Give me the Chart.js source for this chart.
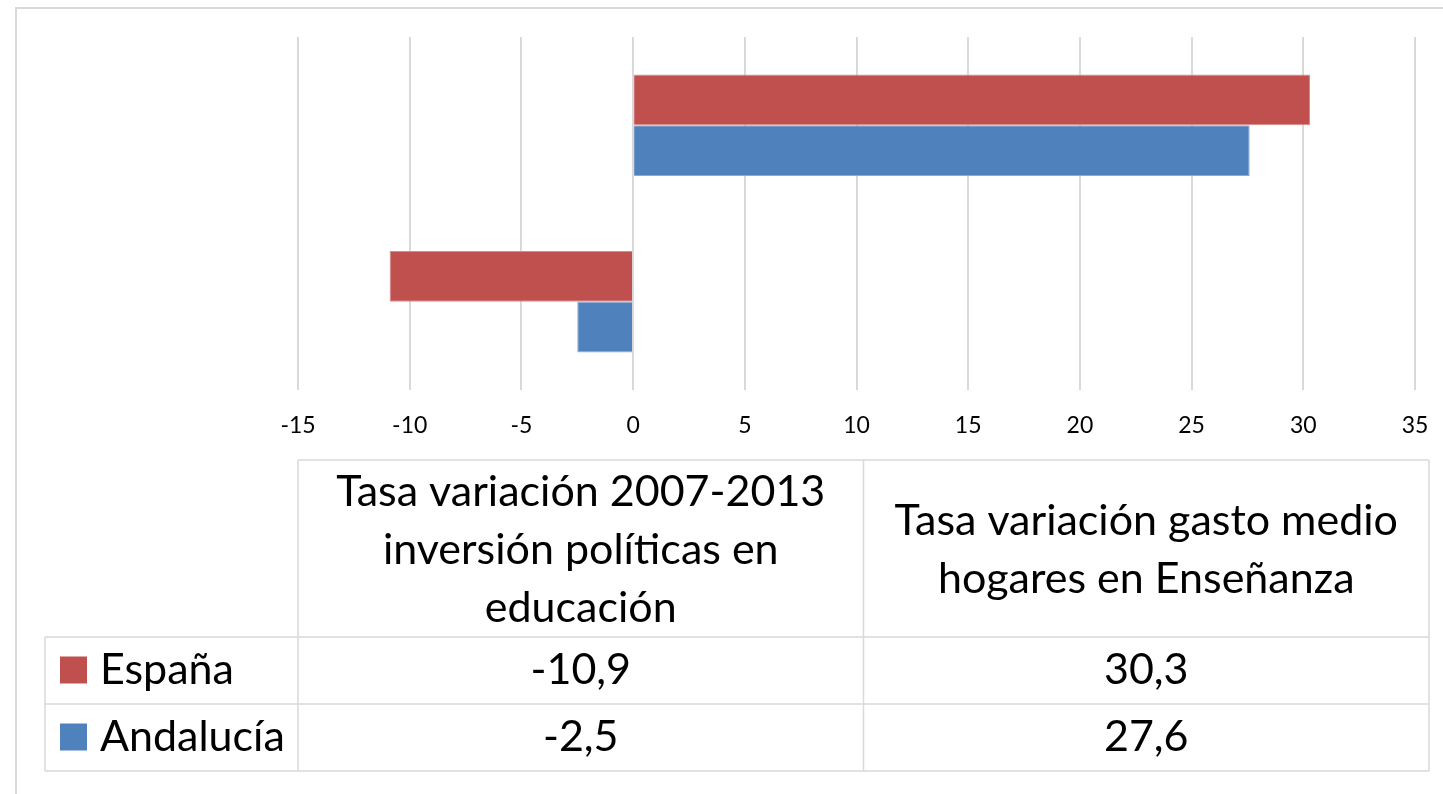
<!DOCTYPE html>
<html>
<head>
<meta charset="utf-8">
<script src="https://cdn.jsdelivr.net/npm/chart.js@4"></script>
<style>
  html, body { margin: 0; padding: 0; background: #fff; overflow: hidden; }
  canvas { display: block; }
</style>
</head>
<body>
<canvas id="graph" width="1443" height="794"></canvas>
<script>
// data
const categories = [
  ['Tasa variación 2007-2013', 'inversión políticas en', 'educación'],
  ['Tasa variación gasto medio', 'hogares en Enseñanza']
];
const seriesNames = ['España', 'Andalucía'];
const espana = [-10.9, 30.3];
const andalucia = [-2.5, 27.6];
const colors = ['#C0504D', '#4F81BD'];
const xTicks = [-15, -10, -5, 0, 5, 10, 15, 20, 25, 30, 35];

const FONT = 'Lato, "Open Sans", sans-serif';
const GRID = '#d9d9d9';

const fmt = v => v.toFixed(1).replace('.', ',');

// draws the outer frame and the data table under the axis
const tablePlugin = {
  id: 'dataTable',
  afterDraw(chart) {
    const ctx = chart.ctx;
    const area = chart.chartArea;
    const left = 45, right = 1429;
    const top = 460, headBottom = 637, rowH = 67;
    const colW = (right - area.left) / categories.length;
    const bottom = headBottom + rowH * seriesNames.length;

    ctx.save();
    // frame
    ctx.strokeStyle = GRID;
    ctx.lineWidth = 2;
    ctx.beginPath();
    ctx.moveTo(16, 800);
    ctx.lineTo(16, 8);
    ctx.lineTo(1450, 8);
    ctx.stroke();

    // grid of the table
    ctx.lineWidth = 1.5;
    ctx.beginPath();
    ctx.moveTo(area.left, top); ctx.lineTo(right, top);
    for (let r = 0; r <= seriesNames.length; r++) {
      const y = headBottom + r * rowH;
      ctx.moveTo(left, y); ctx.lineTo(right, y);
    }
    ctx.moveTo(left, headBottom); ctx.lineTo(left, bottom);
    for (let c = 0; c <= categories.length; c++) {
      const x = area.left + c * colW;
      ctx.moveTo(x, top); ctx.lineTo(x, bottom);
    }
    ctx.stroke();

    ctx.fillStyle = '#000';
    ctx.font = '43px ' + FONT;
    ctx.textAlign = 'center';
    ctx.textBaseline = 'middle';
    // header
    const lineH = 58;
    categories.forEach((lines, c) => {
      const cx = area.left + (c + 0.5) * colW;
      const cy = (top + headBottom) / 2 + 2;
      lines.forEach((t, i) => {
        ctx.fillText(t, cx, cy + (i - (lines.length - 1) / 2) * lineH);
      });
    });
    // rows
    chart.data.datasets.forEach((ds, r) => {
      const cy = headBottom + (r + 0.5) * rowH;
      ctx.fillStyle = ds.backgroundColor;
      ctx.fillRect(60, cy - 14, 27, 27);
      ctx.fillStyle = '#000';
      ctx.textAlign = 'left';
      ctx.fillText(ds.label, 100, cy);
      ctx.textAlign = 'center';
      ds.data.forEach((v, c) => {
        ctx.fillText(fmt(v), area.left + (c + 0.5) * colW, cy);
      });
    });
    ctx.restore();
  }
};

new Chart(document.getElementById('graph'), {
  type: 'bar',
  data: {
    labels: categories,
    datasets: [
      { label: seriesNames[0], data: espana, backgroundColor: colors[0], borderColor: '#d98a88', borderWidth: 1 },
      { label: seriesNames[1], data: andalucia, backgroundColor: colors[1], borderColor: '#8aaad6', borderWidth: 1 }
    ]
  },
  options: {
    indexAxis: 'y',
    responsive: false,
    animation: false,
    layout: { padding: { left: 298, right: 28, top: 37, bottom: 0 } },
    plugins: {
      legend: { display: false },
      tooltip: { enabled: false }
    },
    datasets: {
      bar: { categoryPercentage: 0.575, barPercentage: 1 }
    },
    scales: {
      x: {
        min: -15,
        max: 35,
        afterBuildTicks: axis => { axis.ticks = xTicks.map(v => ({ value: v })); },
        afterFit: axis => {
          axis.height = 404;
          axis.paddingLeft = 0;
          axis.paddingRight = 0;
        },
        grid: { color: GRID, lineWidth: 2, drawTicks: false },
        border: { display: false },
        ticks: { padding: 22, color: '#000', maxRotation: 0, font: { family: FONT, size: 23 } }
      },
      y: {
        display: false,
        reverse: true
      }
    }
  },
  plugins: [tablePlugin]
});
</script>
</body>
</html>
